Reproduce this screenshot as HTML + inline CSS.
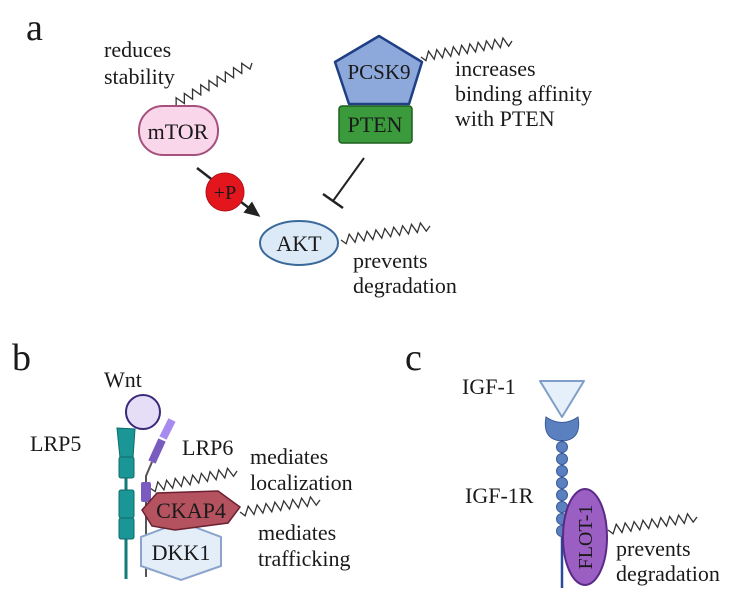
<!DOCTYPE html>
<html><head><meta charset="utf-8"><style>
html,body{margin:0;padding:0;background:#fff}
svg{display:block}
text{font-family:"Liberation Serif",serif;fill:#1a1a1a}
.an{font-size:22px}
.pl{font-size:22px}
</style></head><body>
<svg width="738" height="599" viewBox="0 0 738 599">
<defs><marker id="ah" markerUnits="userSpaceOnUse" markerWidth="16" markerHeight="14" refX="13" refY="7" orient="auto"><path d="M0,0 L16,7 L0,14 Z" fill="#222"/></marker></defs>
<g id="zz" fill="none" stroke="#333" stroke-width="1.3"></g>

<!-- panel a -->
<text x="26" y="40" style="font-size:38px">a</text>
<text class="an" x="104" y="57">reduces</text>
<text class="an" x="104" y="84">stability</text>
<rect x="139" y="106" width="79" height="49" rx="24" fill="#f9d6ea" stroke="#a5507d" stroke-width="2"/>
<text class="pl" x="178" y="139" text-anchor="middle">mTOR</text>
<line x1="197" y1="168" x2="258" y2="215" stroke="#222" stroke-width="2.5" marker-end="url(#ah)"/>
<circle cx="225" cy="192" r="19" fill="#e3161e" stroke="#b01018"/>
<text x="225" y="199" text-anchor="middle" style="font-size:20px">+P</text>
<path d="M379,36 L422,62 L409,104 L349,104 L335,62 Z" fill="#8da8da" stroke="#1f3f85" stroke-width="2.5" stroke-linejoin="round"/>
<text class="pl" x="379" y="79" text-anchor="middle" style="font-size:21px">PCSK9</text>
<rect x="339" y="106" width="73" height="37" rx="3" fill="#3b9a3b" stroke="#1f5f1f" stroke-width="1.5"/>
<text class="pl" x="375" y="132" text-anchor="middle">PTEN</text>
<text class="an" x="455" y="76">increases</text>
<text class="an" x="455" y="101">binding affinity</text>
<text class="an" x="455" y="126">with PTEN</text>
<line x1="364" y1="158" x2="333" y2="201" stroke="#222" stroke-width="2"/>
<line x1="323" y1="194" x2="343" y2="208" stroke="#222" stroke-width="2.5"/>
<ellipse cx="299" cy="243" rx="39" ry="22" fill="#dce9f7" stroke="#3a6a9a" stroke-width="2"/>
<text class="pl" x="299" y="251" text-anchor="middle">AKT</text>
<text class="an" x="353" y="268">prevents</text>
<text class="an" x="353" y="293">degradation</text>

<!-- panel b -->
<text x="12" y="370" style="font-size:38px">b</text>
<text class="an" x="104" y="387">Wnt</text>
<circle cx="143" cy="412" r="17" fill="#e5def6" stroke="#3a2a7a" stroke-width="2"/>
<text class="pl" x="30" y="451">LRP5</text>
<line x1="126" y1="450" x2="126" y2="579" stroke="#137a7a" stroke-width="3"/>
<path d="M117,428 L135,429 L133,458 L120,458 Z" fill="#1a9696" stroke="#0f6b6b"/>
<rect x="119" y="457" width="15" height="21" rx="2" fill="#1a9696" stroke="#0f6b6b"/>
<rect x="119" y="490" width="15" height="28" rx="2" fill="#1a9696" stroke="#0f6b6b"/>
<rect x="119" y="518" width="15" height="21" rx="2" fill="#1a9696" stroke="#0f6b6b"/>
<path d="M146,577 L146,476 L152,462" fill="none" stroke="#555" stroke-width="2"/>
<path d="M152,462 L162,440" stroke="#7a5cc0" stroke-width="8"/>
<path d="M163,438 L172,420" stroke="#a78af0" stroke-width="8"/>
<rect x="141" y="482" width="10" height="20" rx="2" fill="#7a5cc0"/>
<text class="pl" x="182" y="455">LRP6</text>
<text class="an" x="250" y="464">mediates</text>
<text class="an" x="250" y="490">localization</text>
<path d="M181,522 L221,537 L221,566 L181,580 L141,566 L141,537 Z" fill="#e4eef9" stroke="#8aa4cc" stroke-width="2"/>
<text class="pl" x="181" y="560" text-anchor="middle">DKK1</text>
<path d="M142,510 L157,493 L218,491 L240,507 L228,523 L175,530 L152,526 Z" fill="#b5525f" stroke="#6a2030" stroke-width="1.5"/>
<text class="pl" x="191" y="518" text-anchor="middle">CKAP4</text>
<text class="an" x="258" y="540">mediates</text>
<text class="an" x="258" y="566">trafficking</text>

<!-- panel c -->
<text x="405" y="370" style="font-size:38px">c</text>
<text class="an" x="462" y="394">IGF-1</text>
<path d="M540,381 L584,381 L562,417 Z" fill="#e6f0fb" stroke="#7f9fc8" stroke-width="2" stroke-linejoin="round"/>
<path d="M546,417 Q562,428 578,417 Q582,440 562,441 Q542,440 546,417 Z" fill="#5a80c0" stroke="#3a5a9a"/>
<line x1="562" y1="440" x2="562" y2="588" stroke="#2a4a9a" stroke-width="2.5"/>
<g id="beads" fill="#5a80c0" stroke="#3a5a9a"></g>
<text class="pl" x="465" y="503">IGF-1R</text>
<ellipse cx="585" cy="537" rx="22" ry="48" fill="#9b5fc3" stroke="#5a2a86" stroke-width="2"/>
<text x="0" y="0" text-anchor="middle" style="font-size:20px" transform="translate(592,537) rotate(-90)">FLOT-1</text>
<text class="an" x="616" y="556">prevents</text>
<text class="an" x="616" y="581">degradation</text>
</svg>
<script>
const zigzags=[[170,106,252,63,10],[421,57,512,41,11],[341,240,430,226,10],[150,488,237,471,10],[240,512,320,500,9],[608,530,697,517,10]];
const NS="http://www.w3.org/2000/svg";
const zz=document.getElementById('zz');
zigzags.forEach(([x1,y1,x2,y2,n])=>{
  const dx=x2-x1,dy=y2-y1,L=Math.hypot(dx,dy),nx=-dy/L*4.5,ny=dx/L*4.5;
  let d=`M${x1},${y1}`;
  for(let i=1;i<=2*n;i++){const t=i/(2*n),s=(i%2?1:-1);d+=` L${x1+dx*t+(i<2*n?nx*s:0)},${y1+dy*t+(i<2*n?ny*s:0)}`;}
  const p=document.createElementNS(NS,'path');p.setAttribute('d',d);
  
  
  zz.appendChild(p);
});
const beadY=[447,459,471,483,495,507,519,531];
const bg=document.getElementById('beads');
beadY.forEach(y=>{const c=document.createElementNS(NS,'circle');c.setAttribute('cx',562);c.setAttribute('cy',y);c.setAttribute('r',5.5);


bg.appendChild(c);});
</script>
</body></html>
